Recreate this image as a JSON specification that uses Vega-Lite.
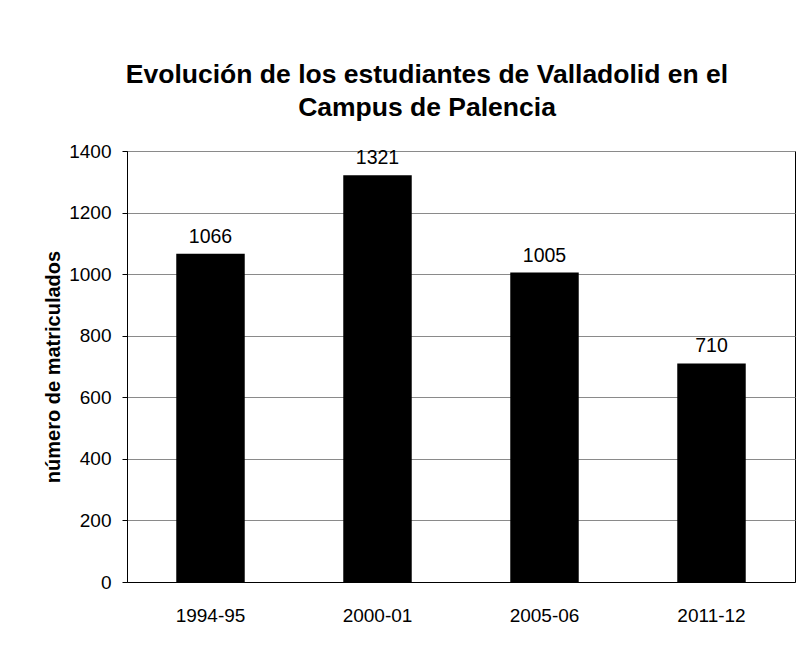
{
  "$schema": "https://vega.github.io/schema/vega-lite/v6.json",
  "autosize": "none",
  "width": 668,
  "height": 431,
  "padding": {"left": 127, "top": 151, "right": 7, "bottom": 63},
  "background": "white",
  "config": {
    "font": "Liberation Sans",
    "view": {"stroke": "black", "strokeWidth": 1}
  },
  "title": {
    "text": ["Evolución de los estudiantes de Valladolid en el", "Campus de Palencia"],
    "font": "Liberation Sans",
    "fontSize": 26.5,
    "fontWeight": "bold",
    "color": "black",
    "anchor": "middle",
    "frame": "group",
    "dx": -34,
    "offset": 21,
    "lineHeight": 33
  },
  "data": {
    "values": [
      {"curso": "1994-95", "matriculados": 1066},
      {"curso": "2000-01", "matriculados": 1321},
      {"curso": "2005-06", "matriculados": 1005},
      {"curso": "2011-12", "matriculados": 710}
    ]
  },
  "encoding": {
    "x": {
      "field": "curso",
      "type": "nominal",
      "sort": null,
      "scale": {"paddingInner": 0.59, "paddingOuter": 0.295},
      "axis": {
        "title": null,
        "labelAngle": 0,
        "labelFontSize": 19,
        "labelColor": "black",
        "labelPadding": 24,
        "domainColor": "black",
        "ticks": false
      }
    },
    "y": {
      "field": "matriculados",
      "type": "quantitative",
      "scale": {"domain": [0, 1400]},
      "axis": {
        "title": "número de matriculados",
        "titleFontSize": 20,
        "titleFontWeight": "bold",
        "titleColor": "black",
        "titlePadding": 5,
        "values": [0, 200, 400, 600, 800, 1000, 1200, 1400],
        "format": "d",
        "labelFontSize": 19,
        "labelColor": "black",
        "labelPadding": 11,
        "domainColor": "black",
        "tickColor": "black",
        "tickSize": 5,
        "gridColor": "#8a8a8a",
        "gridWidth": 1
      }
    }
  },
  "layer": [
    {"mark": {"type": "bar", "color": "black"}},
    {
      "mark": {"type": "text", "baseline": "alphabetic", "dy": -11, "fontSize": 19.5, "color": "black"},
      "encoding": {"text": {"field": "matriculados", "type": "quantitative"}}
    }
  ]
}
